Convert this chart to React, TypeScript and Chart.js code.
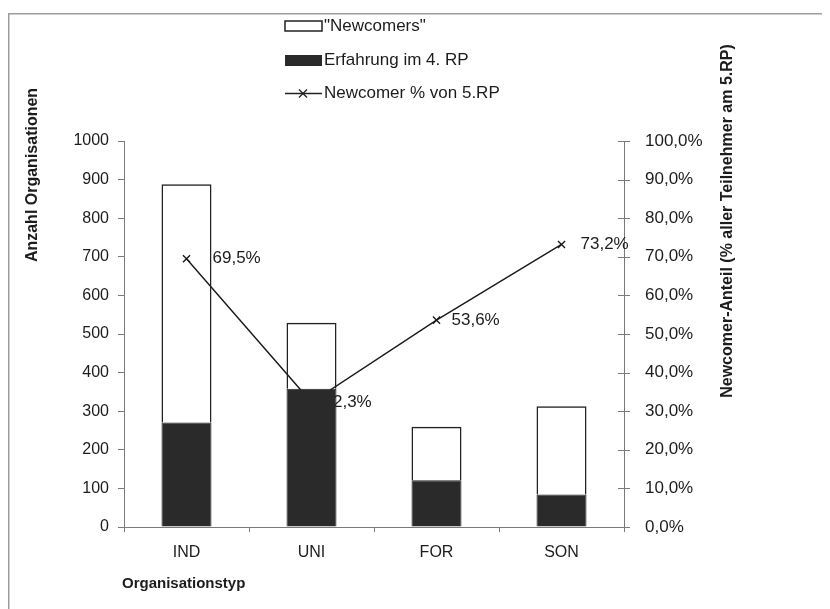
import React, { useEffect, useRef } from 'react';
import { Chart, registerables } from 'chart.js';

Chart.register(...registerables);

const categories = ['IND', 'UNI', 'FOR', 'SON'];
const experienced = [271, 358, 121, 84];
const newcomers = [617, 171, 139, 229];
const newcomerPct = [69.5, 32.3, 53.6, 73.2];
const pctLabels = ['69,5%', '32,3%', '53,6%', '73,2%'];
const leftMax = 1000;
const leftStep = 100;
const rightMax = 100;
const rightStep = 10;

const legendNames = ['"Newcomers"', 'Erfahrung im 4. RP', 'Newcomer % von 5.RP'];
const xTitle = 'Organisationstyp';
const yTitle = 'Anzahl Organisationen';
const y1Title = 'Newcomer-Anteil (% aller Teilnehmer am 5.RP)';

const FONT = '"Liberation Sans", Arial, Helvetica, sans-serif';
const INK = '#1c1c1c';
const AXIS = '#7a7a7a';
const DARK = '#2a2a2a';
const labelDx = [26, 12, 15, 19];

const fmtPct = (v: number) => v.toFixed(1).replace('.', ',') + '%';

const drawCross = (ctx: CanvasRenderingContext2D, x: number, y: number, r: number) => {
  ctx.beginPath();
  ctx.moveTo(x - r, y - r);
  ctx.lineTo(x + r, y + r);
  ctx.moveTo(x - r, y + r);
  ctx.lineTo(x + r, y - r);
  ctx.stroke();
};

const decor = {
  id: 'decor',
  afterDatasetDraw(chart: any, args: any) {
    if (args.index !== 0) return;
    const ctx = chart.ctx as CanvasRenderingContext2D;
    const meta = chart.getDatasetMeta(0);
    ctx.save();
    ctx.fillStyle = INK;
    ctx.font = `17px ${FONT}`;
    ctx.textAlign = 'left';
    ctx.textBaseline = 'middle';
    meta.data.forEach((pt: any, i: number) => {
      ctx.fillText(pctLabels[i], pt.x + labelDx[i], pt.y);
    });
    ctx.restore();
  },
  afterDraw(chart: any) {
    const ctx = chart.ctx as CanvasRenderingContext2D;
    ctx.save();
    // outer frame (cut off at right and bottom)
    ctx.strokeStyle = '#9d9d9d';
    ctx.lineWidth = 1.5;
    ctx.beginPath();
    ctx.moveTo(0.75, chart.height);
    ctx.lineTo(0.75, 5.75);
    ctx.lineTo(chart.width, 5.75);
    ctx.stroke();

    // right axis crossing ticks
    const y1 = chart.scales.y1;
    ctx.strokeStyle = AXIS;
    ctx.lineWidth = 1;
    ctx.beginPath();
    y1.ticks.forEach((_t: any, i: number) => {
      const py = Math.round(y1.getPixelForTick(i)) + 0.5;
      ctx.moveTo(y1.left - 6, py);
      ctx.lineTo(y1.left + 6, py);
    });
    ctx.stroke();

    // axis titles
    ctx.fillStyle = INK;
    ctx.font = `bold 15px ${FONT}`;
    ctx.textBaseline = 'middle';
    ctx.textAlign = 'left';
    ctx.fillText(xTitle, chart.chartArea.left - 2, 576);

    ctx.font = `bold 16px ${FONT}`;
    ctx.save();
    ctx.translate(25, 167);
    ctx.rotate(-Math.PI / 2);
    ctx.textAlign = 'center';
    ctx.fillText(yTitle, 0, 0);
    ctx.restore();

    ctx.save();
    ctx.translate(720, 213);
    ctx.rotate(-Math.PI / 2);
    ctx.textAlign = 'center';
    ctx.fillText(y1Title, 0, 0);
    ctx.restore();

    // legend
    const lx = 277;
    const tx = 316;
    const rows = [18, 52, 85];
    ctx.font = `17px ${FONT}`;
    ctx.textAlign = 'left';
    ctx.textBaseline = 'middle';
    // row 1: white box
    ctx.fillStyle = '#ffffff';
    ctx.fillRect(lx, rows[0] - 5, 37, 10);
    ctx.strokeStyle = '#222';
    ctx.lineWidth = 1.5;
    ctx.strokeRect(lx, rows[0] - 5, 37, 10);
    ctx.fillStyle = INK;
    ctx.fillText(legendNames[0], tx, rows[0]);
    // row 2: dark box
    ctx.fillStyle = DARK;
    ctx.fillRect(lx, rows[1] - 5, 37, 11);
    ctx.fillStyle = INK;
    ctx.fillText(legendNames[1], tx, rows[1]);
    // row 3: line with cross
    ctx.strokeStyle = '#222';
    ctx.lineWidth = 1.3;
    ctx.beginPath();
    ctx.moveTo(lx, rows[2] + 0.5);
    ctx.lineTo(lx + 37, rows[2] + 0.5);
    ctx.stroke();
    drawCross(ctx, lx + 18, rows[2] + 0.5, 4);
    ctx.fillStyle = INK;
    ctx.fillText(legendNames[2], tx, rows[2]);
    ctx.restore();
  },
};

export default function App() {
  const ref = useRef<HTMLCanvasElement | null>(null);

  useEffect(() => {
    if (!ref.current) return;
    Chart.defaults.font.family = FONT;
    const chart = new Chart(ref.current, {
      type: 'bar',
      data: {
        labels: categories,
        datasets: [
          {
            type: 'line',
            label: legendNames[2],
            data: newcomerPct,
            yAxisID: 'y1',
            borderColor: '#1a1a1a',
            borderWidth: 1.4,
            pointStyle: 'crossRot',
            pointRadius: 5,
            pointBorderWidth: 1.4,
            pointBorderColor: '#1a1a1a',
            fill: false,
            tension: 0,
            order: 2,
          } as any,
          {
            type: 'bar',
            label: legendNames[1],
            data: experienced,
            yAxisID: 'y',
            backgroundColor: DARK,
            borderColor: '#222',
            borderWidth: 1,
            stack: 's',
            order: 1,
          },
          {
            type: 'bar',
            label: legendNames[0],
            data: newcomers,
            yAxisID: 'y',
            backgroundColor: 'rgba(255,255,255,0)',
            borderColor: '#222',
            borderWidth: 1.5,
            stack: 's',
            order: 1,
          },
        ],
      },
      options: {
        responsive: false,
        animation: false,
        devicePixelRatio: 1,
        layout: { padding: { top: 133, left: 0, right: 0, bottom: 0 } },
        datasets: { bar: { barPercentage: 0.4, categoryPercentage: 1 } } as any,
        plugins: {
          legend: { display: false },
          tooltip: { enabled: false },
          title: { display: false },
        },
        scales: {
          x: {
            stacked: true,
            offset: true,
            grid: { display: true, drawOnChartArea: false, offset: true, tickLength: 5, color: AXIS },
            border: { display: true, color: AXIS, width: 1 },
            ticks: { color: INK, font: { size: 16, family: FONT }, padding: 11 },
            afterFit: (s: any) => { s.height = 82; },
          },
          y: {
            stacked: true,
            position: 'left',
            min: 0,
            max: leftMax,
            grid: { display: true, drawOnChartArea: false, tickLength: 6, color: AXIS },
            border: { display: true, color: AXIS, width: 1 },
            ticks: {
              stepSize: leftStep,
              color: INK,
              font: { size: 16, family: FONT },
              padding: 9,
              callback: (v: any) => String(v),
            },
            afterFit: (s: any) => { s.width = 116; },
          },
          y1: {
            position: 'right',
            min: 0,
            max: rightMax,
            grid: { display: false },
            border: { display: true, color: AXIS, width: 1 },
            ticks: {
              stepSize: rightStep,
              color: INK,
              font: { size: 17, family: FONT },
              padding: 13,
              callback: (v: any) => fmtPct(Number(v)),
            },
            afterFit: (s: any) => { s.width = 206; },
          },
        },
      },
      plugins: [decor],
    });
    return () => chart.destroy();
  }, []);

  return (
    <canvas
      ref={ref}
      width={822}
      height={601}
      style={{ display: 'block', width: 822, height: 601 }}
    />
  );
}
